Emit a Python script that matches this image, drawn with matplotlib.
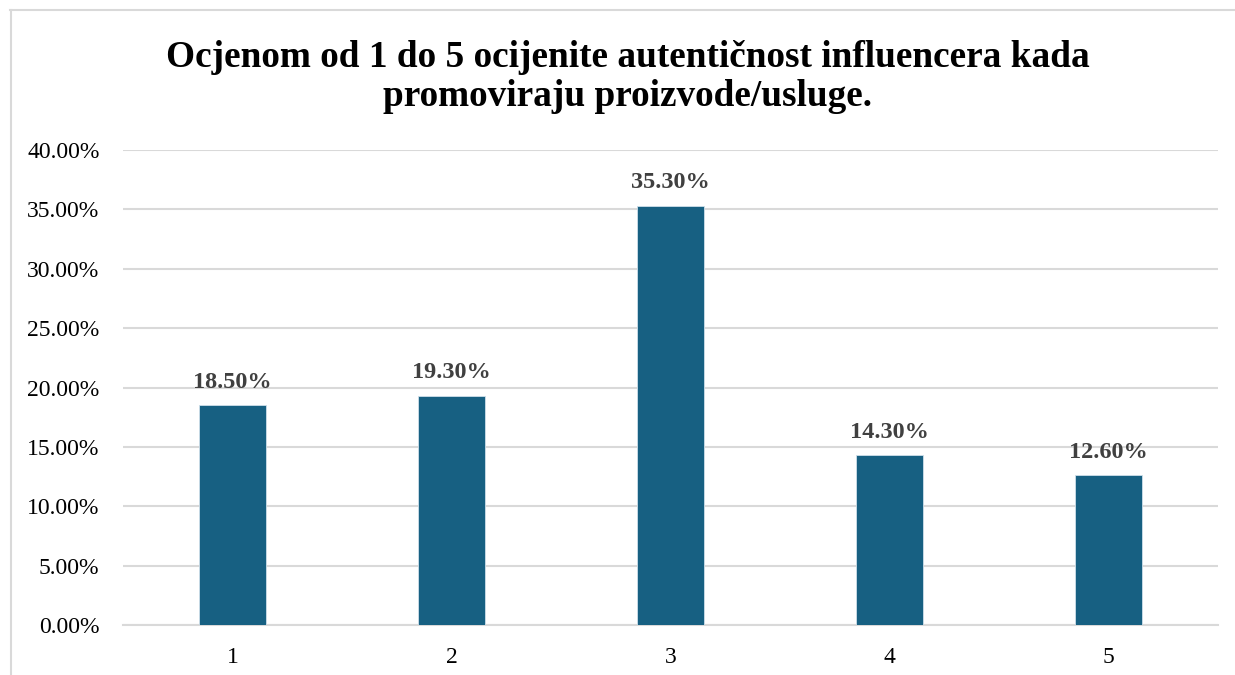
import matplotlib.pyplot as plt
from matplotlib.lines import Line2D
from matplotlib.ticker import FuncFormatter

categories = ['1', '2', '3', '4', '5']
values = [18.5, 19.3, 35.3, 14.3, 12.6]
yticks = [0, 5, 10, 15, 20, 25, 30, 35, 40]

title = 'Ocjenom od 1 do 5 ocijenite autentičnost influencera kada\npromoviraju proizvode/usluge.'

plt.rcParams['font.family'] = ['Liberation Serif', 'DejaVu Serif']

fig = plt.figure(figsize=(12.35, 6.75), dpi=100)
ax = fig.add_axes([123 / 1235, 1 - 625 / 675, 1095 / 1235, 475 / 675])

# outer chart frame (only top and left visible in the crop)
W, H = 1235, 675
fig.add_artist(Line2D([10 / W, 1], [1 - 10 / H, 1 - 10 / H], color='#d9d9d9', lw=1.5))
fig.add_artist(Line2D([10.5 / W, 10.5 / W], [0, 1 - 10 / H], color='#d9d9d9', lw=1.5))

x = list(range(len(categories)))
bars = ax.bar(x, values, width=0.31, color='#176082', edgecolor='#cfe0ea', linewidth=0.6, zorder=3)

for xi, v in zip(x, values):
    ax.annotate('%.2f%%' % v, (xi, v), xytext=(0, 9), textcoords='offset points',
                ha='center', va='bottom', fontsize=17.5, fontweight='bold', color='#404040')

ax.set_xlim(-0.5, len(categories) - 0.5)
ax.set_ylim(0, 40)
ax.set_yticks(yticks)
ax.yaxis.set_major_formatter(FuncFormatter(lambda v, p: '%.2f%%' % v))
ax.set_xticks(x)
ax.set_xticklabels(categories)
ax.tick_params(axis='both', length=0, labelsize=17, colors='black')
ax.tick_params(axis='y', pad=17)
ax.tick_params(axis='x', pad=16)
ax.grid(axis='y', color='#d9d9d9', linewidth=1.5, zorder=0)
for s in ['top', 'right', 'left']:
    ax.spines[s].set_visible(False)
ax.spines['bottom'].set_color('#d9d9d9')
ax.spines['bottom'].set_linewidth(1.5)

fig.text(0.508, 1 - 77 / 675, title, ha='center', va='center', fontsize=26.8,
         fontweight='bold', linespacing=1.15)

plt.savefig('out.png', dpi=100)
